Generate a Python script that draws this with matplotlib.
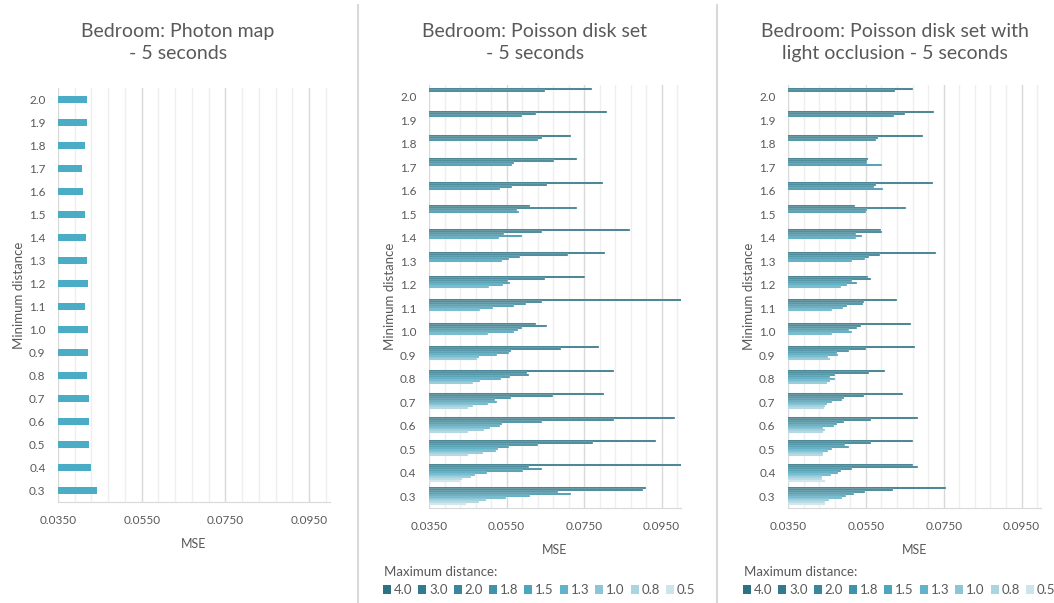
import matplotlib
matplotlib.use("Agg")
import matplotlib.pyplot as plt
import numpy as np
from matplotlib.lines import Line2D
from matplotlib.patches import Patch

plt.rcParams["font.family"] = ["Lato", "DejaVu Sans"]

TEXT = "#595959"
GRID_MAJOR = "#D9D9D9"
GRID_MINOR = "#EFEFEF"
X_MIN, X_MAX = 0.035, 0.100

min_distance = ["0.3", "0.4", "0.5", "0.6", "0.7", "0.8", "0.9", "1.0", "1.1",
                "1.2", "1.3", "1.4", "1.5", "1.6", "1.7", "1.8", "1.9", "2.0"]
max_distance = ["4.0", "3.0", "2.0", "1.8", "1.5", "1.3", "1.0", "0.8", "0.5"]
series_colors = ["#2E7182", "#327A8D", "#38879C", "#3E93A9", "#49A6BE",
                 "#62B3C8", "#8CC6D6", "#AAD4E0", "#CCE5EC"]

photon_mse = [0.0443, 0.0430, 0.0424, 0.0424, 0.0424, 0.0419, 0.0422, 0.0422, 0.0414,
              0.0422, 0.0419, 0.0416, 0.0414, 0.0410, 0.0408, 0.0414, 0.0419, 0.0419]

# rows follow max_distance, columns follow min_distance; None = pair not sampled
poisson_mse = [
    [0.0909, 0.1012, 0.0935, 0.0985, 0.0802, 0.0826, 0.0789, 0.0625, 0.1012,
     0.0752, 0.0805, 0.0869, 0.0611, 0.0800, 0.0733, 0.0716, 0.0808, 0.0770],
    [0.0903, 0.0608, 0.0774, 0.0828, 0.0669, 0.0602, 0.0690, 0.0654, 0.0641,
     0.0649, 0.0709, 0.0642, 0.0731, 0.0654, 0.0672, 0.0641, 0.0626, 0.0649],
    [0.0684, 0.0641, 0.0632, 0.0642, 0.0562, 0.0608, 0.0562, 0.0591, 0.0599,
     0.0555, 0.0585, 0.0544, 0.0576, 0.0565, 0.0568, 0.0630, 0.0591, None],
    [0.0716, 0.0593, 0.0556, 0.0539, 0.0519, 0.0559, 0.0556, 0.0579, 0.0570,
     0.0559, 0.0556, 0.0591, 0.0582, 0.0533, 0.0565, None, None, None],
    [0.0611, 0.0499, 0.0527, 0.0533, 0.0525, 0.0536, 0.0525, 0.0570, 0.0516,
     0.0542, 0.0539, 0.0531, None, None, None, None, None, None],
    [0.0548, 0.0469, 0.0522, 0.0507, 0.0501, 0.0482, 0.0478, 0.0501, 0.0482,
     0.0505, None, None, None, None, None, None, None, None],
    [0.0496, 0.0458, 0.0490, 0.0493, 0.0464, 0.0464, 0.0475, None, None,
     None, None, None, None, None, None, None, None, None],
    [0.0479, 0.0436, 0.0451, 0.0451, 0.0450, None, None, None, None,
     None, None, None, None, None, None, None, None, None],
    [0.0445, 0.0430, None, None, None, None, None, None, None,
     None, None, None, None, None, None, None, None, None],
]

occlusion_mse = [
    [0.0756, 0.0670, 0.0670, 0.0684, 0.0646, 0.0599, 0.0677, 0.0666, 0.0629,
     0.0556, 0.0730, 0.0588, 0.0522, 0.0722, 0.0556, 0.0698, 0.0724, 0.0670],
    [0.0620, 0.0684, 0.0562, 0.0562, 0.0544, 0.0558, 0.0550, 0.0538, 0.0546,
     0.0562, 0.0586, 0.0591, 0.0654, 0.0575, 0.0554, 0.0581, 0.0651, 0.0625],
    [0.0548, 0.0515, 0.0496, 0.0494, 0.0494, 0.0472, 0.0507, 0.0526, 0.0543,
     0.0515, 0.0558, 0.0524, 0.0554, 0.0571, 0.0552, 0.0577, 0.0623, None],
    [0.0519, 0.0487, 0.0507, 0.0476, 0.0489, 0.0459, 0.0476, 0.0508, 0.0502,
     0.0527, 0.0547, 0.0539, 0.0550, 0.0594, 0.0591, None, None, None],
    [0.0498, 0.0479, 0.0462, 0.0468, 0.0464, 0.0472, 0.0479, 0.0515, 0.0492,
     0.0501, 0.0515, 0.0524, None, None, None, None, None, None],
    [0.0488, 0.0461, 0.0453, 0.0439, 0.0451, 0.0458, 0.0453, 0.0464, 0.0464,
     0.0487, None, None, None, None, None, None, None, None],
    [0.0455, 0.0438, 0.0439, 0.0445, 0.0446, 0.0449, 0.0459, None, None,
     None, None, None, None, None, None, None, None, None],
    [0.0446, 0.0438, 0.0439, 0.0439, 0.0442, None, None, None, None,
     None, None, None, None, None, None, None, None, None],
    [0.0445, 0.0444, None, None, None, None, None, None, None,
     None, None, None, None, None, None, None, None, None],
]

panel_titles = [
    "Bedroom: Photon map\n- 5 seconds",
    "Bedroom: Poisson disk set\n- 5 seconds",
    "Bedroom: Poisson disk set with\nlight occlusion - 5 seconds",
]

W, H = 1054, 603
fig = plt.figure(figsize=(W / 100, H / 100), dpi=100)


def px_axes(left, top, right, bottom):
    return fig.add_axes([left / W, 1 - bottom / H, (right - left) / W, (bottom - top) / H])


def style_axes(ax):
    positions = np.arange(len(min_distance))
    ax.set_xlim(X_MIN, X_MAX)
    ax.set_ylim(-0.5, len(min_distance) - 0.5)
    for step in range(17):
        value = X_MIN + step * 0.004
        ax.axvline(value, color=GRID_MAJOR if step % 5 == 0 else GRID_MINOR,
                   lw=1.0, zorder=0)
    ax.set_xticks([0.035, 0.055, 0.075, 0.095])
    ax.set_xticklabels(["0.0350", "0.0550", "0.0750", "0.0950"])
    ax.set_yticks(positions)
    ax.set_yticklabels(min_distance)
    ax.tick_params(axis="both", length=0, colors=TEXT, labelsize=8.5)
    ax.tick_params(axis="x", pad=9)
    ax.tick_params(axis="y", pad=9)
    for side in ("top", "right", "left"):
        ax.spines[side].set_visible(False)
    ax.spines["bottom"].set_color(GRID_MAJOR)
    ax.set_xlabel("MSE", color=TEXT, fontsize=9, labelpad=9)
    ax.set_ylabel("Minimum distance", color=TEXT, fontsize=9.5, labelpad=3)


def draw_clusters(ax, table):
    positions = np.arange(len(min_distance))
    bar_height = 0.086
    for index, (label, row, color) in enumerate(zip(max_distance, table, series_colors)):
        widths = np.array([np.nan if v is None else v for v in row], dtype=float)
        offsets = positions + (len(max_distance) // 2 - index) * bar_height
        ax.barh(offsets, widths, height=bar_height, color=color, label=label,
                edgecolor="#E8F1F4", linewidth=0.25, zorder=2)


photon_axes = px_axes(58, 88, 330, 502)
style_axes(photon_axes)
photon_axes.barh(np.arange(len(min_distance)), photon_mse, height=0.31,
                 color="#4BACC6", zorder=2)

poisson_axes = px_axes(429, 85, 681, 508)
style_axes(poisson_axes)
draw_clusters(poisson_axes, poisson_mse)

occlusion_axes = px_axes(788, 85, 1041, 508)
style_axes(occlusion_axes)
draw_clusters(occlusion_axes, occlusion_mse)

for center, title in zip((178, 535, 895), panel_titles):
    fig.text(center / W, 1 - 42.5 / H, title, ha="center", va="center",
             color=TEXT, fontsize=14, linespacing=1.3)

handles = [Patch(facecolor=c, edgecolor="none") for c in series_colors]
for legend_left in (380, 740):
    fig.text((legend_left + 4) / W, 1 - 572 / H, "Maximum distance:",
             ha="left", va="center", color=TEXT, fontsize=9.5)
    fig.legend(handles, max_distance, loc="center left",
               bbox_to_anchor=((legend_left + 3) / W, 1 - 590 / H), ncol=9,
               frameon=False, fontsize=9.5, labelcolor=TEXT,
               handlelength=0.6, handleheight=0.6, handletextpad=0.2,
               columnspacing=0.48, borderpad=0, borderaxespad=0)

for x in (358, 717):
    fig.add_artist(Line2D([x / W, x / W], [0, 1 - 5 / H], color="#D9D9D9", lw=1.5))

fig.savefig("out.png", dpi=100, facecolor="white")
